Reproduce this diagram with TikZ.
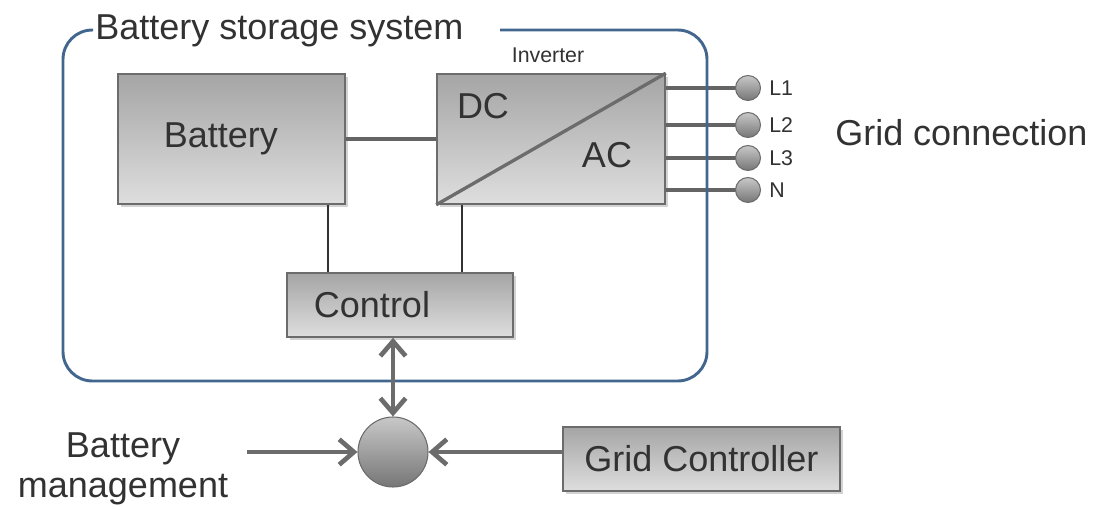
\documentclass[tikz,border=0pt]{standalone}
\usepackage{fontspec}
\setmainfont{Liberation Sans}
\usetikzlibrary{arrows.meta,shadows}
\definecolor{cLine}{RGB}{108,108,108}
\definecolor{cWire}{RGB}{100,100,100}
\definecolor{cText}{RGB}{50,50,50}
\definecolor{cFrame}{RGB}{66,102,142}
\definecolor{cTop}{RGB}{165,165,165}
\definecolor{cBot}{RGB}{222,222,222}
\definecolor{cBallT}{RGB}{200,200,200}
\definecolor{cBallB}{RGB}{118,118,118}
\newcommand{\bigtxt}{\fontsize{27}{30}\selectfont}
\newcommand{\smalltxt}{\fontsize{16}{19}\selectfont}

\tikzset{
  box/.style={draw=cLine,line width=1.2pt,top color=cTop,bottom color=cBot,
    text=cText,font=\bigtxt,inner sep=0pt,
    drop shadow={opacity=0.35,shadow xshift=2pt,shadow yshift=-2pt}},
  ball/.style={circle,draw=cLine,line width=0.8pt,top color=cBallT,bottom color=cBallB,inner sep=0pt},
  txt/.style={text=cText,font=\bigtxt,inner sep=0pt},
  lbl/.style={text=cText,font=\smalltxt,inner sep=0pt},
  wire/.style={cWire,line width=3pt},
  tap/.style={cText,line width=0.9pt},
  flow/.style={cLine,line width=3.5pt,-{Straight Barb[length=11pt,width=19pt]}},
}

\begin{document}
\begin{tikzpicture}[x=0.75pt,y=-0.75pt]
\useasboundingbox (0,0) rectangle (1101,510);
\node[txt,anchor=base west] (title) at (95,40) {Battery storage system};
% blocks
\node[box,minimum width=170.25pt,minimum height=97.5pt] (bat) at (231.5,139) {Battery\hspace*{16pt}};
\node[box,minimum width=171pt,minimum height=97.5pt] (inv) at (551,139) {};
\draw[cLine,line width=2.5pt] (inv.south west) -- (inv.north east);
\node[lbl] (invT) at (548,55) {Inverter};
\node[txt] (dc) at (483,106) {DC};
\node[txt] (ac) at (607,155) {AC};
\node[box,minimum width=169.5pt,minimum height=48pt] (ctl) at (400,305) {Control\hspace*{42pt}};
\draw[wire] (bat.east) -- (inv.west);
\coordinate (tapB) at (328,240);
\coordinate (tapI) at (462,240);
\draw[tap] (bat.south -| tapB) -- (ctl.north -| tapB);
\draw[tap] (inv.south -| tapI) -- (ctl.north -| tapI);
% grid terminals
\foreach \n/\y in {L1/88,L2/125,L3/158,N/190}{
  \draw[wire] (748,\y) -- (inv.east |- 0,\y);
  \node[ball,minimum size=18.75pt] (t\n) at (748,\y) {};
  \node[lbl,anchor=west] (l\n) at ([xshift=6pt]t\n.east) {\n};
}
\node[txt,anchor=west] (grid) at (835,133) {Grid connection};
% frame of the storage system
\draw[cFrame,line width=2.2pt,rounded corners=22pt] (500,30) -| (707,381) -| (63,30) -- (93,30);
% control loop
\node[ball,minimum size=52.5pt] (hub) at (393,452) {};
\node[box,minimum width=207.75pt,minimum height=48pt] (gc) at (701.5,459) {Grid Controller};
\node[txt,align=center] (bm) at (123,469) {Battery\\management};
\coordinate (bmEnd) at (247,452);
\draw[flow,{Straight Barb[length=11pt,width=19pt]}-{Straight Barb[length=11pt,width=19pt]}] (ctl.south -| hub) -- (hub.north);
\draw[flow] (bmEnd) -- (hub.west);
\draw[flow] (gc.west |- hub.east) -- (hub.east);
\end{tikzpicture}
\end{document}
